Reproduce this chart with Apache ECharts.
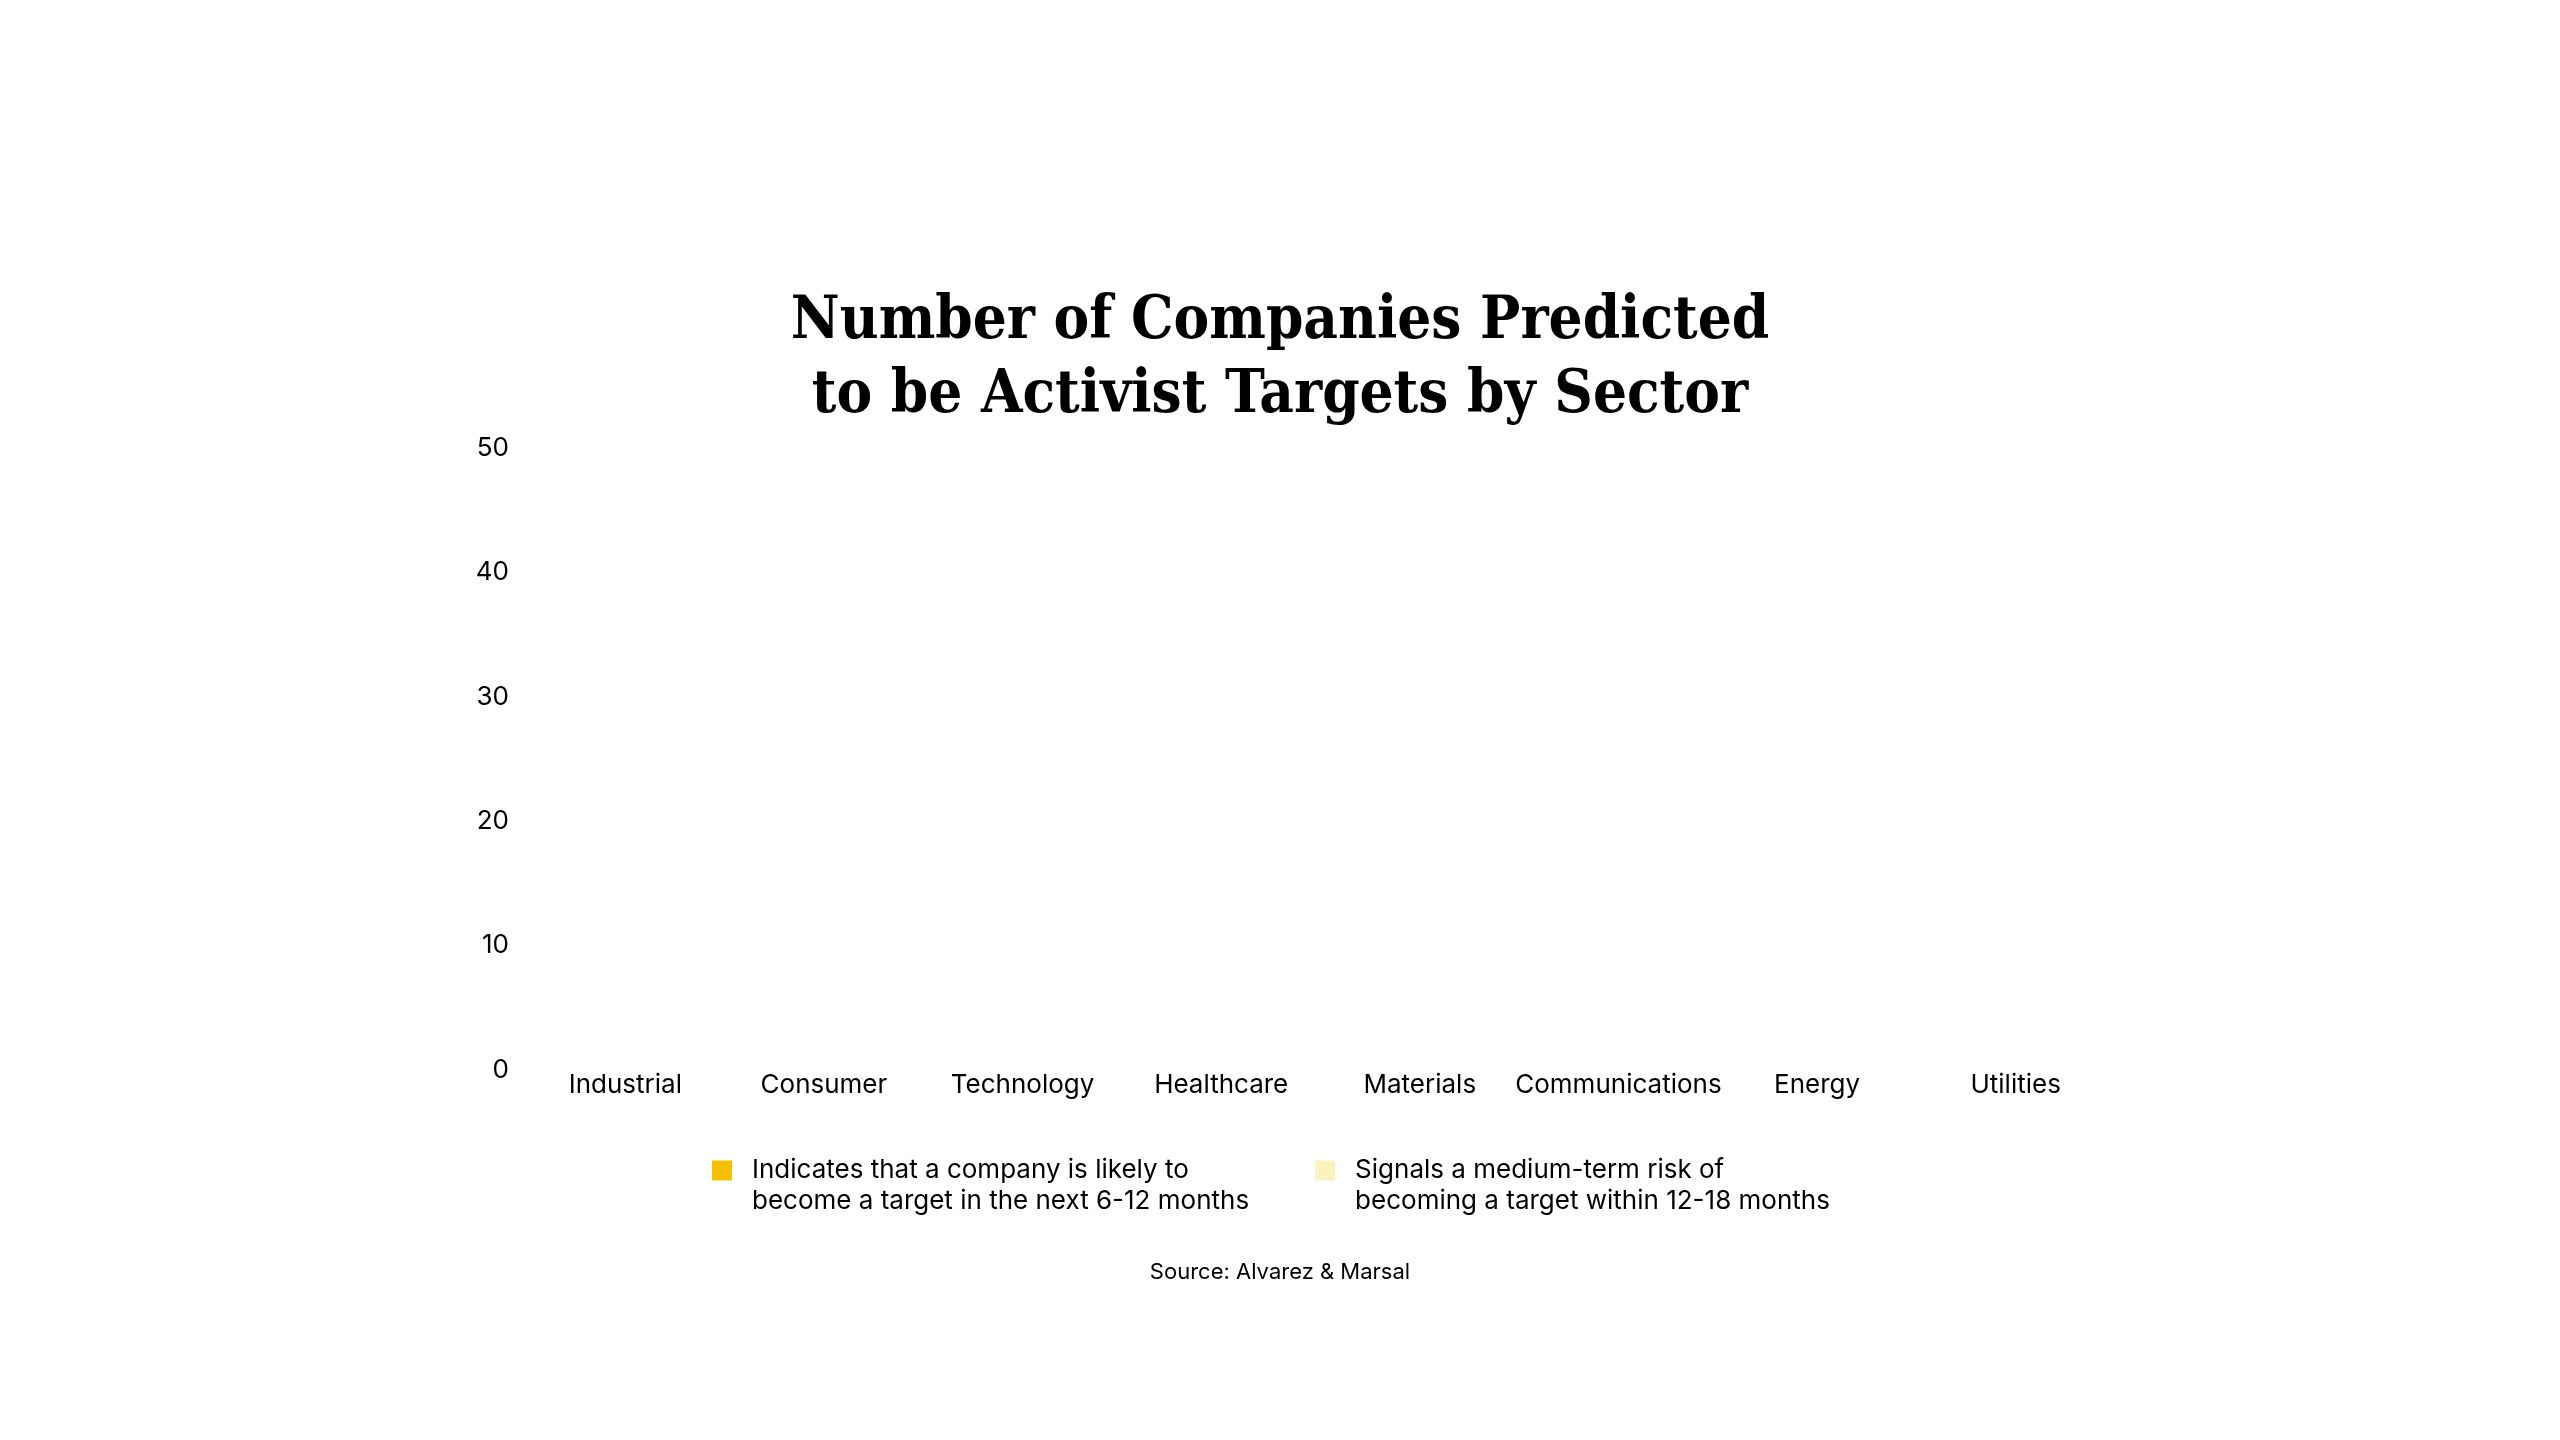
<!DOCTYPE html>
<html>
<head>
<meta charset="utf-8">
<script src="https://cdn.jsdelivr.net/npm/echarts@6/dist/echarts.min.js"></script>
<style>
html,body{margin:0;padding:0;background:#fff;}
#chart{width:2560px;height:1440px;}
</style>
</head>
<body>
<div id="chart"></div>
<script>
const categories = ['Industrial','Consumer','Technology','Healthcare','Materials','Communications','Energy','Utilities'];
const shortTerm = [0,0,0,0,0,0,0,0];
const mediumTerm = [0,0,0,0,0,0,0,0];
const seriesNames = ['Indicates that a company is likely to\nbecome a target in the next 6-12 months','Signals a medium-term risk of\nbecoming a target within 12-18 months'];
const yTicks = {min:0, max:50, interval:10};

const chart = echarts.init(document.getElementById('chart'));
const sans = 'Inter';
chart.setOption({
  animation:false,
  backgroundColor:'#ffffff',
  title:{
    text:'Number of Companies Predicted\nto be Activist Targets by Sector',
    left:1275, top:281, textAlign:'center',
    textStyle:{fontFamily:"'DejaVu Serif Condensed', 'Liberation Serif', serif", fontWeight:'bold', fontSize:59.5, lineHeight:74, color:'#000'}
  },
  legend:{
    top:1124, left:712, itemGap:66, itemWidth:20, itemHeight:20, padding:0,
    icon:'rect',
    formatter: function(name){ return '\n' + name; },
    textStyle:{fontFamily:sans, fontSize:26, lineHeight:31, color:'#000', padding:[0,0,0,15]}
  },
  grid:{left:526, right:445, top:448, bottom:370, containLabel:false},
  xAxis:{
    type:'category', data:categories,
    axisLine:{show:false}, axisTick:{show:false},
    axisLabel:{fontFamily:sans, fontSize:26, color:'#000', margin:2, interval:0}
  },
  yAxis:{
    type:'value', min:yTicks.min, max:yTicks.max, interval:yTicks.interval,
    axisLine:{show:false}, axisTick:{show:false}, splitLine:{show:false},
    axisLabel:{fontFamily:sans, fontSize:26, color:'#000', margin:17}
  },
  series:[
    {name:seriesNames[0], type:'bar', stack:'s', data:shortTerm, itemStyle:{color:'#F5C000'}, barWidth:'60%'},
    {name:seriesNames[1], type:'bar', stack:'s', data:mediumTerm, itemStyle:{color:'#FAF2BF'}}
  ],
  graphic:[{
    type:'text', left:'center', top:1261,
    style:{text:'Source: Alvarez & Marsal', fontFamily:sans, fontSize:22, fill:'#000'}
  }]
});
</script>
</body>
</html>
